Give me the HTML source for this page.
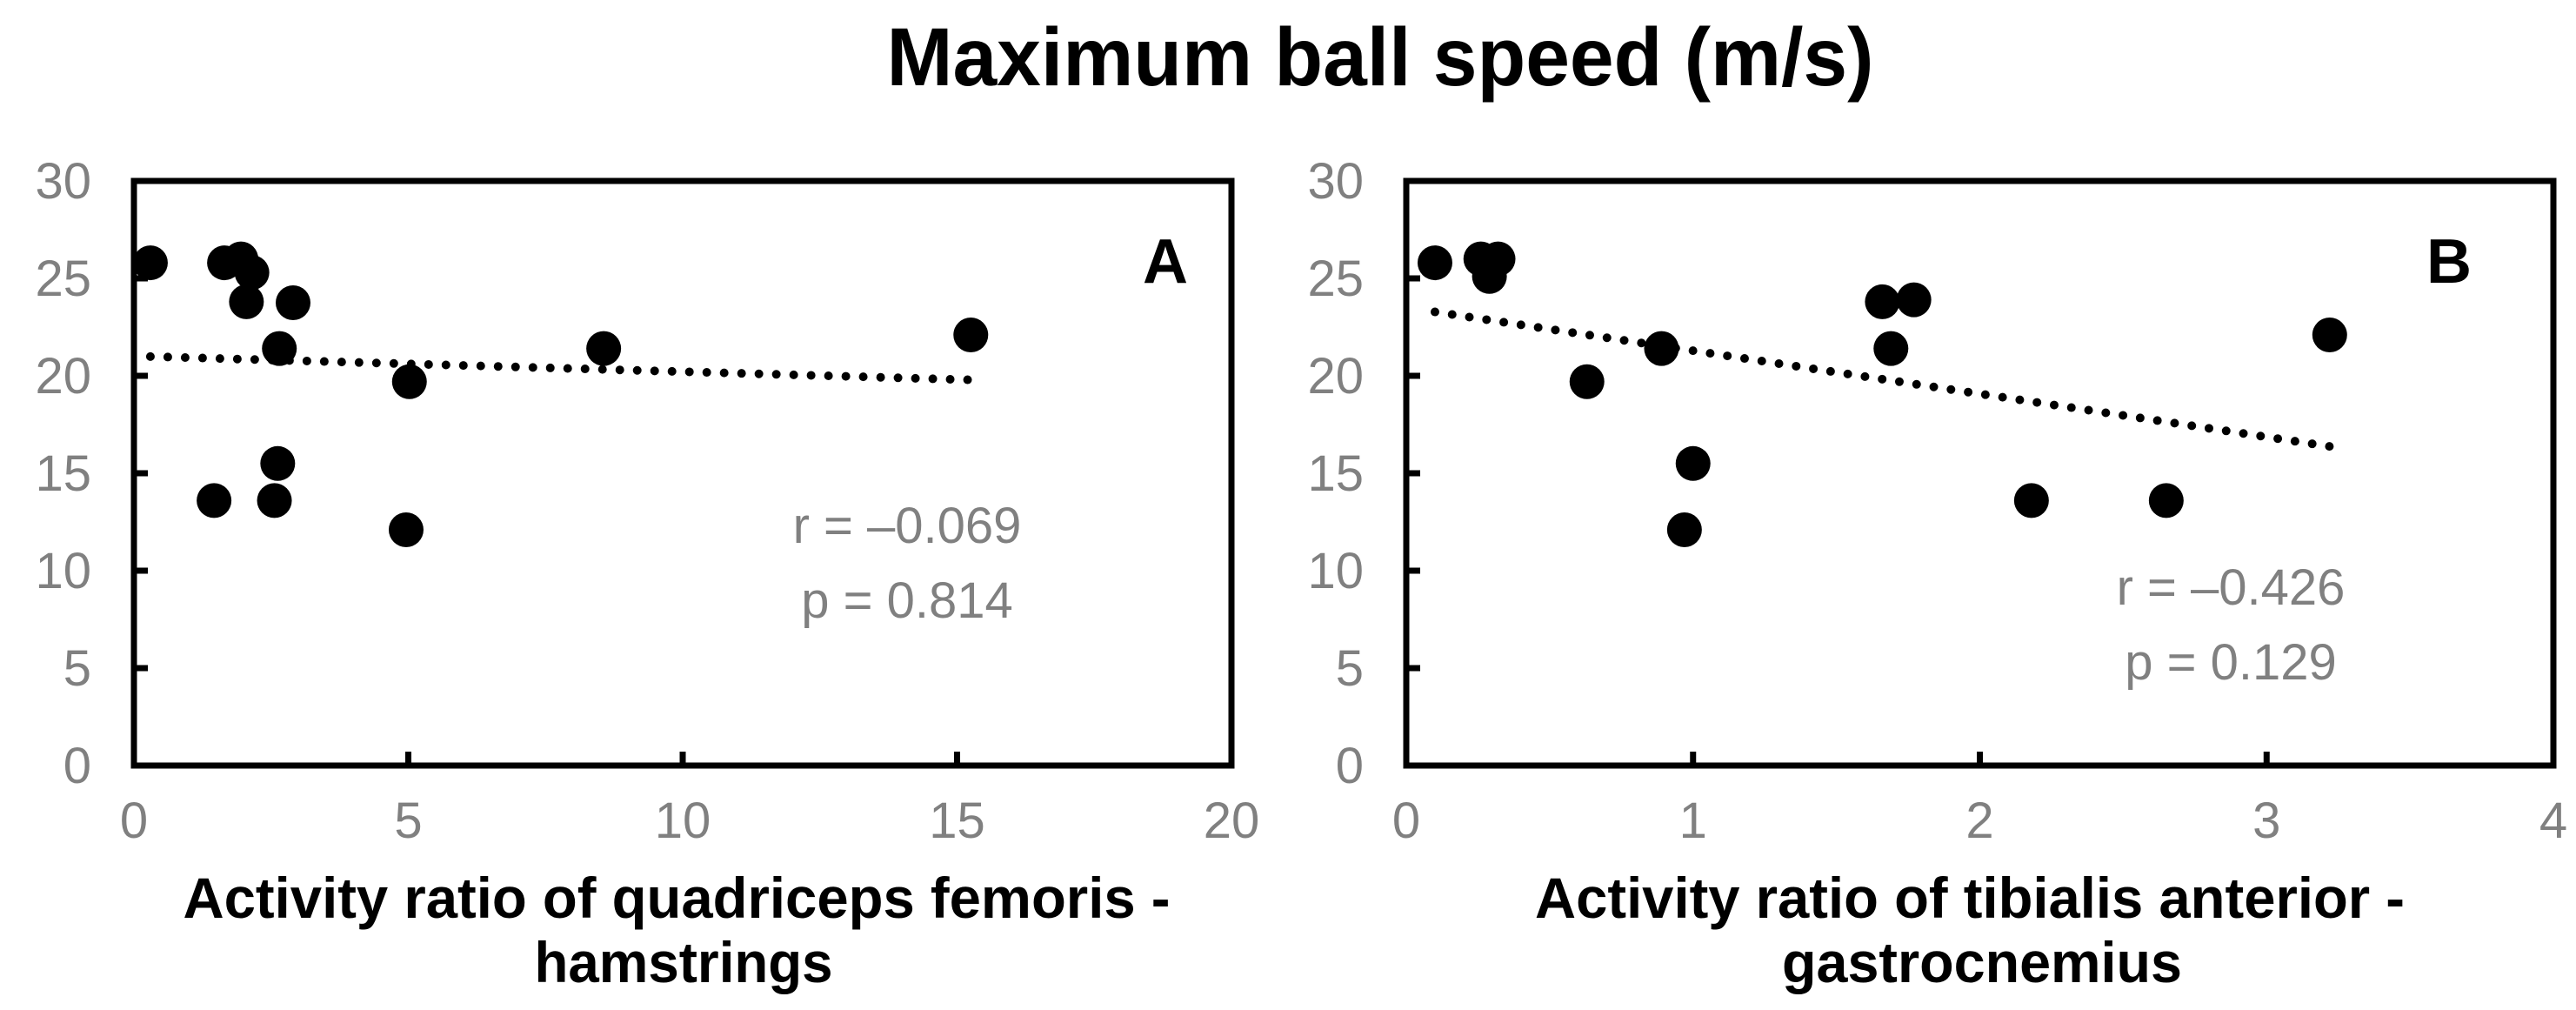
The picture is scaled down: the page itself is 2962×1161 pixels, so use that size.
<!DOCTYPE html>
<html><head><meta charset="utf-8"><style>
html,body{margin:0;padding:0;background:#fff;}
svg{display:block;font-family:"Liberation Sans",Arial,sans-serif;}
</style></head><body>
<svg id="fig" width="2962" height="1161" xmlns="http://www.w3.org/2000/svg">
<text x="1587" y="98" text-anchor="middle" font-size="95" font-weight="bold" textLength="1135" lengthAdjust="spacingAndGlyphs">Maximum ball speed (m/s)</text>
<g id="panelA"></g>
<g id="panelB"></g>
</svg>
<script>
const yTicks = [0, 5, 10, 15, 20, 25, 30];
const xTicksA = [0, 5, 10, 15, 20];
const xTicksB = [0, 1, 2, 3, 4];
const xA = [0.3, 1.65, 1.95, 2.15, 2.05, 2.9, 2.65, 5.02, 8.56, 15.25, 2.62, 1.46, 2.56, 4.96];
const yA = [25.8, 25.8, 26.0, 25.3, 23.8, 23.75, 21.4, 19.7, 21.4, 22.1, 15.5, 13.6, 13.6, 12.1];
const xB = [0.1, 0.26, 0.29, 0.32, 0.63, 0.89, 0.97, 1.0, 1.66, 1.69, 1.77, 2.18, 2.65, 3.22];
const yB = [25.8, 26.0, 25.1, 26.0, 19.7, 21.4, 12.1, 15.5, 23.8, 21.4, 23.9, 13.6, 13.6, 22.1];
const statsA = ["r = \u20130.069", "p = 0.814"];
const statsB = ["r = \u20130.426", "p = 0.129"];

const NS = "http://www.w3.org/2000/svg";
function mk(parent, tag, attrs, text) {
  const e = document.createElementNS(NS, tag);
  for (const k in attrs) e.setAttribute(k, attrs[k]);
  if (text !== undefined) e.textContent = text;
  parent.appendChild(e);
  return e;
}
function fit(xs, ys) {
  const n = xs.length;
  const mx = xs.reduce((a, b) => a + b, 0) / n, my = ys.reduce((a, b) => a + b, 0) / n;
  let sxy = 0, sxx = 0;
  for (let i = 0; i < n; i++) { sxy += (xs[i] - mx) * (ys[i] - my); sxx += (xs[i] - mx) ** 2; }
  const b = sxy / sxx; return [my - b * mx, b];
}
function panel(g, cfg) {
  const sx = v => cfg.x0 + (v - cfg.xmin) / (cfg.xmax - cfg.xmin) * (cfg.x1 - cfg.x0);
  const sy = v => cfg.y0 - v / 30 * (cfg.y0 - cfg.y1);
  const fr = mk(g, "rect", {x: cfg.x0, y: cfg.y1, width: cfg.x1 - cfg.x0, height: cfg.y0 - cfg.y1, fill: "none", stroke: "#000", "stroke-width": 7});
  
  
  yTicks.forEach(t => {
    const l = mk(g, "line", {x1: cfg.x0, x2: cfg.x0 + 16, y1: sy(t), y2: sy(t), stroke: "#000", "stroke-width": 7});
    
    
    const tx = mk(g, "text", {x: cfg.ylabX, y: sy(t) + 20, "text-anchor": "end", "font-size": 58, fill: "#808080"}, String(t));
    
    
  });
  cfg.xticks.forEach(t => {
    const l = mk(g, "line", {x1: sx(t), x2: sx(t), y1: cfg.y0, y2: cfg.y0 - 16, stroke: "#000", "stroke-width": 7});
    
    
    const tx = mk(g, "text", {x: sx(t), y: 963, "text-anchor": "middle", "font-size": 58, fill: "#808080"}, String(t));
    
    
  });
  const [a, b] = fit(cfg.xs, cfg.ys);
  const xmn = Math.min(...cfg.xs), xmx = Math.max(...cfg.xs);
  const tl = mk(g, "line", {x1: sx(xmn), y1: sy(a + b * xmn), x2: sx(xmx), y2: sy(a + b * xmx), stroke: "#000", "stroke-width": 10, "stroke-linecap": "round", "stroke-dasharray": "0 20"});
  
  
  cfg.xs.forEach((v, i) => {
    const c = mk(g, "circle", {cx: sx(v), cy: sy(cfg.ys[i]), r: 20, fill: "#000"});
    
    
  });
  const lt = mk(g, "text", {x: cfg.letterX, y: 325, "text-anchor": "middle", "font-size": 72, "font-weight": "bold"}, cfg.letter);
  
  
  cfg.stats.forEach((s, i) => {
    const t = mk(g, "text", {x: cfg.statX, y: cfg.statY + i * 86, "text-anchor": "middle", "font-size": 58, fill: "#808080"}, s);
    
    
  });
  cfg.xlabel.forEach((s, i) => {
    const t = mk(g, "text", {x: cfg.labX[i], y: 1055 + i * 74, "text-anchor": "middle", "font-size": 66, "font-weight": "bold", textLength: cfg.labW[i], lengthAdjust: "spacingAndGlyphs"}, s);
    
    
  });
}
panel(document.getElementById("panelA"), {x0: 154, x1: 1416, y0: 880, y1: 208, xmin: 0, xmax: 20, xticks: xTicksA, xs: xA, ys: yA, ylabX: 105, letter: "A", letterX: 1340, stats: statsA, statX: 1043, statY: 624, xlabel: ["Activity ratio of quadriceps femoris -", "hamstrings"], labX: [778, 786], labW: [1135, 343]});
panel(document.getElementById("panelB"), {x0: 1617, x1: 2936, y0: 880, y1: 208, xmin: 0, xmax: 4, xticks: xTicksB, xs: xB, ys: yB, ylabX: 1568, letter: "B", letterX: 2816, stats: statsB, statX: 2565, statY: 695, xlabel: ["Activity ratio of tibialis anterior -", "gastrocnemius"], labX: [2265, 2279], labW: [1000, 460]});
</script>
</body></html>
